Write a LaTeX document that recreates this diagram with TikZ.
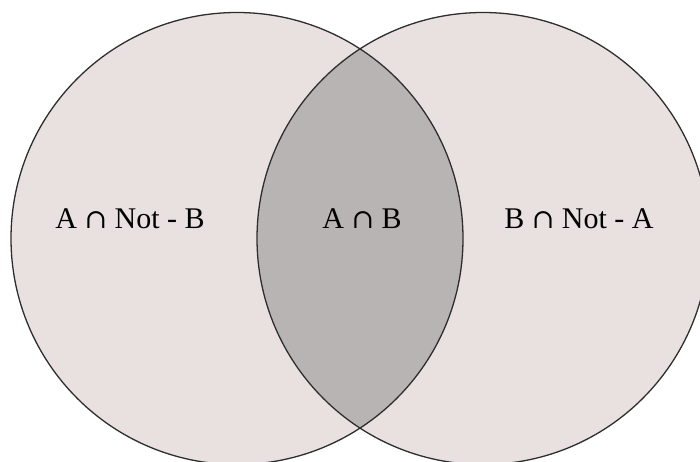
\documentclass[tikz,border=0pt]{standalone}
\usepackage{fontspec}
\setmainfont{Liberation Serif}
\newfontfamily\capfont{DejaVu Serif}
\newcommand{\icap}{{\capfont\fontsize{27}{30}\selectfont ∩}}
\definecolor{setfill}{HTML}{E8E1E0}
\definecolor{lensfill}{HTML}{B9B4B4}
\definecolor{edge}{HTML}{2E2E2E}
\tikzset{
  setcircle/.style={draw=edge, line width=1.3pt},
  label/.style={font=\fontsize{30}{34}\selectfont, text=black, inner sep=0pt}
}
\begin{document}
\begin{tikzpicture}[x=1pt,y=1pt]
\useasboundingbox (0,0) rectangle (700,462);
\clip (0,0) rectangle (700,462);
\coordinate (ca) at (237,223.5);
\coordinate (cb) at (483,223.5);
\fill[setfill] (ca) circle[radius=226];
\fill[setfill] (cb) circle[radius=226];
\begin{scope}
  \clip (ca) circle[radius=226];
  \fill[lensfill] (cb) circle[radius=226];
\end{scope}
\draw[setcircle] (ca) circle[radius=226];
\draw[setcircle] (cb) circle[radius=226];
\node[label] (ab) at (130,243) {A \icap{} Not - B};
\node[label] (mid) at (362,243) {A \icap{} B};
\node[label] (ba) at (579,243) {B \icap{} Not - A};
\end{tikzpicture}
\end{document}
